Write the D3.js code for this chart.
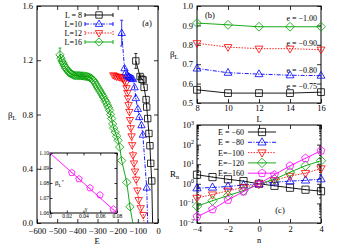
<!DOCTYPE html>
<html><head><meta charset="utf-8">
<script src="https://cdn.jsdelivr.net/npm/d3@7"></script>
<style>
html,body{margin:0;padding:0;background:#fff;}
svg{display:block;font-family:"Liberation Serif","DejaVu Serif",serif;}
</style></head>
<body><svg id="fig" width="350" height="245"></svg>
<script>
// ===== Data =====
// panel (a): [E, beta, err?]; "tails" only carry the lines down to the axis
const l8  = [[-110,1.195,0.055],[-89,1.08,0.012],[-80,1.06],[-74,1.055],[-69,1.0],[-59,0.91],[-56,0.855],[-51,0.77],[-45,0.66],[-40,0.57],[-36,0.44],[-31,0.31]];
const l10 = [[-180,1.40,0.095],[-166,1.14],[-160,1.11],[-154,1.09],[-148,1.08],[-142,1.075],[-136,1.07],[-130,1.065],[-124,1.06],[-116,1.0],[-110,0.92],[-100,0.84],[-93,0.78],[-82,0.72],[-75,0.65],[-56,0.26]];
const l12 = [[-222,1.09],[-214,1.085],[-206,1.08],[-197,1.078],[-189,1.075],[-181,1.072],[-173,1.065],[-166,1.05],[-160,1.03],[-156,0.995],[-152,0.96],[-149,0.92],[-146,0.87],[-142,0.82],[-139,0.76],[-135,0.70],[-131,0.64],[-128,0.575],[-124,0.50],[-119,0.44],[-114,0.38],[-108,0.32],[-102,0.24],[-96,0.17],[-86,0.11],[-73,0.06]];
const l16 = [[-486,1.24,0.05],[-481,1.215],[-476,1.195],[-471,1.18],[-466,1.165],[-461,1.15],[-456,1.14],[-451,1.13],[-446,1.12],[-441,1.11],[-436,1.104],[-431,1.1],[-425,1.095],[-419,1.09],[-413,1.088],[-407,1.087],[-401,1.087],[-395,1.086],[-389,1.086],[-383,1.085],[-377,1.085],[-371,1.084],[-365,1.083],[-359,1.082],[-353,1.08],[-347,1.078],[-341,1.075],[-335,1.07],[-329,1.065],[-323,1.055],[-317,1.045],[-311,1.03],[-305,1.015],[-299,1.0],[-293,0.985],[-287,0.97],[-281,0.955],[-275,0.94],[-269,0.925],[-263,0.905],[-257,0.89],[-251,0.87],[-245,0.85],[-240,0.83],[-235,0.80],[-230,0.77],[-225,0.73],[-220,0.70],[-212,0.67],[-205,0.64],[-198,0.61],[-190,0.56],[-180,0.46],[-155,0.30],[-139,0.12]];
const tails = {l8:[-26,-0.05], l10:[-50,-0.05], l12:[-66,-0.05], l16:[-119,-0.05]};
const xTicksA = [-600,-500,-400,-300,-200,-100,0];
const yTicksA = [0,0.4,0.8,1.2,1.6];

// inset: beta_L* vs gamma
const gam   = [0.026,0.0346,0.0478,0.0597,0.0756];
const bStar = [1.0869,1.0827,1.0767,1.072,1.0625];
const fitLine = [[0,1.100],[0.08,1.060]];

// panel (b)
const Ls = [8,10,12,14,16];
const bE100 = [0.912,0.903,0.893,0.893,0.893];
const bE090 = [0.808,0.788,0.780,0.780,0.775];
const bE080 = [0.678,0.656,0.649,0.643,0.641];
const bE075 = [0.568,0.551,0.551,0.551,0.556];

// panel (c)
const nVals = [-4,-3,-2,-1,0,1,2,3,4];
const rE60  = [2.9,2.2,1.7,1.37,1,0.79,0.63,0.5,0.42];
const rE80  = [0.6,0.65,0.73,0.86,1,1.2,1.37,1.5,1.73];
const rE100 = [0.19,0.28,0.44,0.65,1,1.5,2.5,3.5,6.0];
const rE120 = [0.072,0.137,0.25,0.45,1,1.7,3.9,8.4,15];
const rE160 = [0.021,0.05,0.15,0.4,1,2.9,8.2,20,49];

// ===== Styles =====
const C = {k:'#000', b:'#0000ff', r:'#ff0000', g:'#00a000', m:'#ff00ff'};
const DASH = {solid:null, dashdot:'4,1.5,1,1.5', dot:'1.4,1.4'};

const svg = d3.select('#fig');

function symPath(t, r){
  if(t==='sq') return `M${-r},${-r}H${r}V${r}H${-r}Z`;
  if(t==='up') return `M0,${-r*1.25}L${r*1.15},${r*0.75}L${-r*1.15},${r*0.75}Z`;
  if(t==='dn') return `M0,${r*1.25}L${r*1.15},${-r*0.75}L${-r*1.15},${-r*0.75}Z`;
  if(t==='di') return `M0,${-r*1.3}L${r*1.3},0L0,${r*1.3}L${-r*1.3},0Z`;
  const p = d3.range(5).map(i=>{const a=-Math.PI/2+i*2*Math.PI/5; return [r*1.15*Math.cos(a), r*1.15*Math.sin(a)];});
  return 'M'+p.map(d=>d.join(',')).join('L')+'Z';
}

function symbol(g, cx, cy, t, r, col){
  g.append('path').attr('transform',`translate(${cx},${cy})`).attr('d',symPath(t,r))
    .attr('fill','none').attr('stroke',col).attr('stroke-width',0.8);
  g.append('circle').attr('cx',cx).attr('cy',cy).attr('r',0.5).attr('fill',col);
}

function frame(x, y, o){
  const g = svg.append('g').attr('font-size', o.fs);
  const [x0,x1] = x.range(), [y0,y1] = y.range();
  const tk = o.tk || 4;
  const clean = s => { s.select('.domain').remove(); s.attr('font-family',null).attr('font-size',null);
    s.selectAll('line').attr('stroke-width',0.8); };
  g.append('g').attr('transform',`translate(0,${y0})`)
    .call(d3.axisBottom(x).tickValues(o.xt).tickSize(-tk).tickPadding(o.padX).tickFormat(o.xf)).call(clean);
  g.append('g').attr('transform',`translate(0,${y1})`)
    .call(d3.axisTop(x).tickValues(o.xt).tickSize(-tk).tickFormat('')).call(clean);
  g.append('g').attr('transform',`translate(${x0},0)`)
    .call(d3.axisLeft(y).tickValues(o.yt).tickSize(-tk).tickPadding(o.padY).tickFormat(o.yf)).call(clean);
  g.append('g').attr('transform',`translate(${x1},0)`)
    .call(d3.axisRight(y).tickValues(o.yt).tickSize(-tk).tickFormat('')).call(clean);
  if(o.minor){
    g.append('g').attr('transform',`translate(${x0},0)`)
      .call(d3.axisLeft(y).tickValues(o.minor).tickSize(-2).tickFormat('')).call(clean);
    g.append('g').attr('transform',`translate(${x1},0)`)
      .call(d3.axisRight(y).tickValues(o.minor).tickSize(-2).tickFormat('')).call(clean);
  }
  g.append('rect').attr('x',x0).attr('y',y1).attr('width',x1-x0).attr('height',y0-y1)
    .attr('fill','none').attr('stroke','#000').attr('stroke-width',1);
  return g;
}

function series(g, x, y, pts, st){
  const line = d3.line().x(d=>x(d[0])).y(d=>y(d[1]));
  g.append('path').attr('d', line(pts.concat(st.tail ? [st.tail] : [])))
    .attr('fill','none').attr('stroke',st.col).attr('stroke-width',0.9)
    .attr('stroke-dasharray',DASH[st.dash]);
  pts.forEach(d=>{
    if(d[2]){
      const cx = x(d[0]), ya = y(d[1]+d[2]), yb = y(d[1]-d[2]);
      g.append('path').attr('d',`M${cx},${ya}V${yb}M${cx-1.5},${ya}H${cx+1.5}M${cx-1.5},${yb}H${cx+1.5}`)
        .attr('stroke',st.col).attr('stroke-width',0.8).attr('fill','none');
    }
    symbol(g, x(d[0]), y(d[1]), st.sym, st.r, st.col);
  });
}

function subLabel(x, y, main, sub, fs, sup){
  const t = svg.append('text').attr('x',x).attr('y',y).attr('font-size',fs);
  t.append('tspan').text(main);
  t.append('tspan').attr('dy',fs*0.25).attr('font-size',fs*0.7).text(sub);
  if(sup) t.append('tspan').attr('dy',-fs*0.6).attr('font-size',fs*0.7).text(sup);
  return t;
}

// ===== Panel (a) =====
const xa = d3.scaleLinear().domain([-600,0]).range([37,158]);
const ya = d3.scaleLinear().domain([0,1.6]).range([223,6]);
frame(xa, ya, {fs:8.5, xt:xTicksA, yt:yTicksA, xf:d3.format('d'), yf:d3.format('.1f'), padX:5, padY:4});
svg.append('clipPath').attr('id','clipA').append('rect').attr('x',37).attr('y',0).attr('width',121).attr('height',223);
const gA = svg.append('g').attr('clip-path','url(#clipA)');
const styleA = [
  {key:'l8',  pts:l8,  col:C.k, dash:'solid',   sym:'sq', label:'L = 8'},
  {key:'l10', pts:l10, col:C.b, dash:'dashdot', sym:'up', label:'L=10'},
  {key:'l12', pts:l12, col:C.r, dash:'dot',     sym:'dn', label:'L=12'},
  {key:'l16', pts:l16, col:C.g, dash:'solid',   sym:'di', label:'L=16'}
];
styleA.slice().reverse().forEach(s => series(gA, xa, ya, s.pts, {col:s.col, dash:s.dash, sym:s.sym, r:3.2, tail:tails[s.key]}));

// legend (a)
styleA.forEach((s,i)=>{
  const yy = 15 + i*9;
  svg.append('text').attr('x',82).attr('y',yy+3).attr('text-anchor','end').attr('font-size',8).text(s.label);
  svg.append('path').attr('d',`M85,${yy}H113M85,${yy-2}V${yy+2}M113,${yy-2}V${yy+2}`)
    .attr('stroke',s.col).attr('stroke-width',0.9).attr('fill','none').attr('stroke-dasharray',DASH[s.dash]);
  symbol(svg, 99, yy, s.sym, 3.2, s.col);
});
svg.append('text').attr('x',147).attr('y',26).attr('text-anchor','middle').attr('font-size',8.5).text('(a)');
svg.append('text').attr('x',97).attr('y',244).attr('text-anchor','middle').attr('font-size',8.5).text('E');
subLabel(8, 118, 'β', 'L', 9);

// inset
const xi = d3.scaleLinear().domain([0,0.08]).range([50,117]);
const yi = d3.scaleLinear().domain([1.06,1.10]).range([213,153]);
svg.append('rect').attr('x',50).attr('y',153).attr('width',67).attr('height',60).attr('fill','#fff');
frame(xi, yi, {fs:5.6, tk:2.5, xt:[0,0.02,0.04,0.06,0.08], yt:[1.06,1.07,1.08,1.09,1.10],
  xf:d=>d===0?'0':d3.format('.2f')(d), yf:d3.format('.2f'), padX:1, padY:1});
svg.append('path').attr('d', d3.line().x(d=>xi(d[0])).y(d=>yi(d[1]))(fitLine))
  .attr('stroke',C.m).attr('stroke-width',0.9).attr('fill','none');
gam.forEach((g,i)=>symbol(svg, xi(g), yi(bStar[i]), 'pe', 3, C.m));
subLabel(55, 185, 'β', 'L', 7, '*');
svg.append('text').attr('x',86).attr('y',211).attr('font-size',6).attr('text-anchor','middle').text('γ');

// ===== Panel (b) =====
const xb = d3.scaleLinear().domain([8,16]).range([197,321]);
const yb = d3.scaleLinear().domain([0.5,1.0]).range([103,6]);
frame(xb, yb, {fs:8.5, xt:[8,10,12,14,16], yt:[0.5,0.6,0.7,0.8,0.9,1.0], xf:d3.format('d'), yf:d3.format('.1f'), padX:2, padY:4});
const styleB = [
  {v:bE100, col:C.g, dash:'solid',   sym:'di', label:'e = −1.00', ly:21},
  {v:bE090, col:C.r, dash:'dot',     sym:'dn', label:'e = −0.90', ly:46},
  {v:bE080, col:C.b, dash:'dashdot', sym:'up', label:'e = −0.80', ly:73},
  {v:bE075, col:C.k, dash:'solid',   sym:'sq', label:'e = −0.75', ly:89}
];
const gB = svg.append('g');
styleB.forEach(s=>{
  series(gB, xb, yb, Ls.map((L,i)=>[L, s.v[i]]), {col:s.col, dash:s.dash, sym:s.sym, r:3.4});
  svg.append('text').attr('x',317).attr('y',s.ly).attr('text-anchor','end').attr('font-size',8).text(s.label);
});
svg.append('text').attr('x',210).attr('y',18).attr('text-anchor','middle').attr('font-size',8.5).text('(b)');
svg.append('text').attr('x',259).attr('y',121.5).attr('text-anchor','middle').attr('font-size',8.5).text('L');
subLabel(170, 57, 'β', 'L', 9);

// ===== Panel (c) =====
const xc = d3.scaleLinear().domain([-4,4]).range([197,321]);
const yc = d3.scaleLog().domain([1e-2,1e3]).range([223,125]);
const decades = [-2,-1,0,1,2,3];
const minorC = [];
decades.slice(0,-1).forEach(k=>d3.range(2,10).forEach(m=>minorC.push(m*Math.pow(10,k))));
frame(xc, yc, {fs:8.5, xt:[-4,-2,0,2,4], yt:decades.map(k=>Math.pow(10,k)), minor:minorC,
  xf:d3.format('d'), yf:()=>'', padX:3, padY:4});
decades.forEach(k=>{
  const t = svg.append('text').attr('x',194).attr('y',yc(Math.pow(10,k))+3).attr('text-anchor','end').attr('font-size',8.5);
  t.append('tspan').text('10');
  t.append('tspan').attr('dy',-3.5).attr('font-size',6).text(d3.format('d')(k));
});
const styleC = [
  {v:rE60,  col:C.k, dash:'solid',   sym:'sq', label:'E = −60'},
  {v:rE80,  col:C.b, dash:'dashdot', sym:'up', label:'E = −80'},
  {v:rE100, col:C.r, dash:'dot',     sym:'dn', label:'E=−100'},
  {v:rE120, col:C.g, dash:'solid',   sym:'di', label:'E=−120'},
  {v:rE160, col:C.m, dash:'solid',   sym:'pe', label:'E=−160'}
];
const gC = svg.append('g');
styleC.forEach((s,i)=>{
  series(gC, xc, yc, nVals.map((n,j)=>[n, s.v[j]]), {col:s.col, dash:s.dash, sym:s.sym, r:3.6});
  const yy = 132 + i*10.3;
  svg.append('text').attr('x',244).attr('y',yy+3).attr('text-anchor','end').attr('font-size',8).text(s.label);
  svg.append('path').attr('d',`M248,${yy}H276`).attr('stroke',s.col).attr('stroke-width',0.9)
    .attr('stroke-dasharray',DASH[s.dash]);
  symbol(svg, 262, yy, s.sym, 3.6, s.col);
});
svg.append('text').attr('x',280).attr('y',213).attr('text-anchor','middle').attr('font-size',8.5).text('(c)');
svg.append('text').attr('x',259).attr('y',243).attr('text-anchor','middle').attr('font-size',8.5).text('n');
subLabel(170, 177, 'R', 'n', 9);
</script>
</body></html>
